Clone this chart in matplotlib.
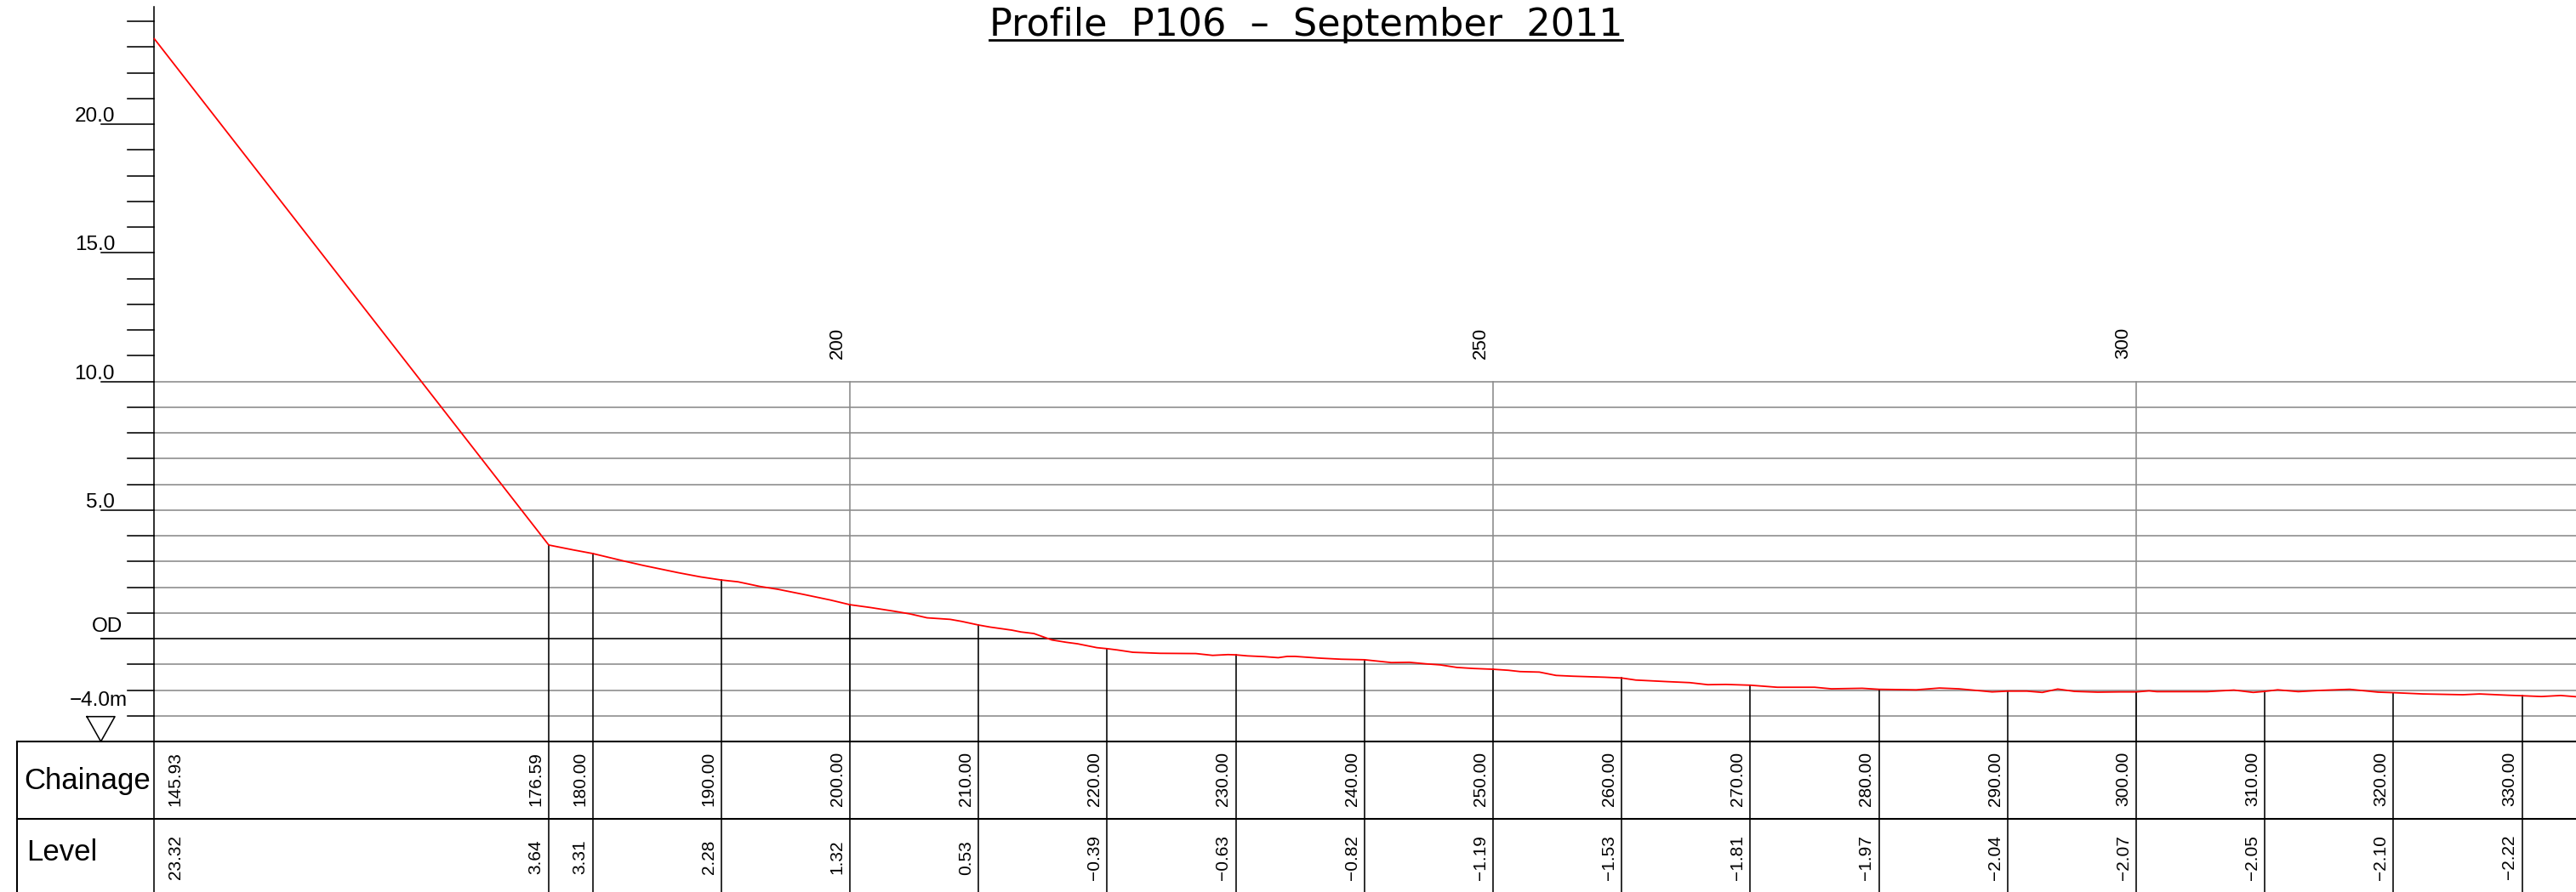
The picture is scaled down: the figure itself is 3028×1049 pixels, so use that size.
import matplotlib
matplotlib.use('Agg')
import matplotlib.pyplot as plt

plt.rcParams['font.family'] = ['Liberation Sans', 'DejaVu Sans']

# ---- data ----
# stations listed in the table under the profile
station_chainage = [145.93, 176.59, 180.00, 190.00, 200.00, 210.00, 220.00, 230.00, 240.00,
                    250.00, 260.00, 270.00, 280.00, 290.00, 300.00, 310.00, 320.00, 330.00]
station_level = [23.32, 3.64, 3.31, 2.28, 1.32, 0.53, -0.39, -0.63, -0.82,
                 -1.19, -1.53, -1.81, -1.97, -2.04, -2.07, -2.05, -2.10, -2.22]

# surveyed ground line (red)
profile_chainage = [145.93, 176.59, 178.5, 180.00, 182.5, 184.0, 186.7, 188.4, 190.00, 191.3,
                    193.0, 194.4, 196.3, 198.5, 200.00, 201.6, 203.4, 204.7, 206.0, 207.8,
                    208.7, 210.00, 210.9, 212.6, 213.3, 214.3, 215.7, 216.8, 217.7, 219.2,
                    220.00, 220.8, 222.0, 224.1, 226.9, 228.2, 229.4, 230.00, 230.9, 232.2,
                    233.3, 234.0, 234.6, 236.6, 238.2, 240.00, 242.1, 243.5, 244.8, 245.9,
                    247.2, 248.5, 250.00, 251.2, 252.1, 253.6, 254.9, 256.2, 258.7, 260.00,
                    261.1, 263.5, 265.3, 266.7, 268.1, 270.00, 272.1, 275.0, 276.3, 278.7,
                    280.00, 282.9, 284.7, 286.2, 288.8, 290.00, 291.5, 292.7, 293.9, 295.2,
                    297.0, 298.7, 300.00, 301.0, 301.6, 305.5, 307.6, 309.1, 310.00, 311.0,
                    312.6, 314.4, 316.6, 318.8, 320.00, 322.3, 325.4, 326.7, 328.9, 330.00,
                    331.5, 333.0, 334.5]
profile_level = [23.32, 3.64, 3.45, 3.31, 3.01, 2.84, 2.56, 2.40, 2.28, 2.21,
                 2.03, 1.92, 1.73, 1.50, 1.32, 1.21, 1.07, 0.96, 0.81, 0.75,
                 0.67, 0.53, 0.45, 0.33, 0.26, 0.20, -0.05, -0.14, -0.20, -0.35,
                 -0.39, -0.44, -0.53, -0.57, -0.58, -0.65, -0.62, -0.63, -0.67, -0.70,
                 -0.74, -0.69, -0.69, -0.76, -0.80, -0.82, -0.93, -0.92, -0.98, -1.02,
                 -1.12, -1.16, -1.19, -1.23, -1.28, -1.30, -1.43, -1.46, -1.50, -1.53,
                 -1.61, -1.67, -1.71, -1.79, -1.78, -1.81, -1.89, -1.89, -1.95, -1.93,
                 -1.97, -1.99, -1.92, -1.95, -2.07, -2.04, -2.04, -2.09, -1.96, -2.05,
                 -2.08, -2.07, -2.07, -2.03, -2.06, -2.06, -2.00, -2.09, -2.05, -1.99,
                 -2.06, -2.01, -1.97, -2.08, -2.10, -2.15, -2.18, -2.15, -2.20, -2.22,
                 -2.25, -2.21, -2.27]

grid_chainage = [200, 250, 300]
level_ticks = [20, 15, 10, 5]
level_tick_labels = ['20.0', '15.0', '10.0', '5.0']
datum_level = -4.0

title = 'Profile  P106  –  September  2011'


def fmt(v):
    return f'{v:.2f}'.replace('-', '\u2212')


########################################################################
fig = plt.figure(figsize=(30.28, 10.49), dpi=100)
ax = fig.add_axes([0, 0, 1, 1])
x_left, x_right = 133.93, 334.19
y_bot, y_top = -9.85, 24.83
ax.set_xlim(x_left, x_right)
ax.set_ylim(y_bot, y_top)
ax.axis('off')

GREY = '#8a8a8a'
LW = 1.15
x_axis = station_chainage[0]
x_tick = 143.85
x_long = 141.8
x_table = 135.25

# horizontal grid
for lv in range(int(datum_level) + 1, 11):
    if lv == 0:
        continue
    ax.plot([x_axis, x_right], [lv, lv], color=GREY, lw=LW, zorder=1)
ax.plot([x_long, x_right], [0, 0], color='k', lw=LW, zorder=2)

# vertical grid at round chainages
for ch in grid_chainage:
    ax.plot([ch, ch], [datum_level, 10], color=GREY, lw=LW, zorder=1)
    ax.text(ch - 0.3, 11.5, str(ch), rotation=90, ha='right', va='center', fontsize=16)

# level axis
ax.plot([x_axis, x_axis], [24.55, y_bot], color='k', lw=LW, zorder=3)
for lv in range(int(datum_level) + 1, 25):
    start = x_long if lv % 5 == 0 else x_tick
    ax.plot([start, x_axis], [lv, lv], color='k', lw=LW, zorder=3)
for lv, lab in zip(level_ticks, level_tick_labels):
    ax.text(142.86, lv + 0.1, lab, ha='right', va='baseline', fontsize=17.5)
ax.text(143.45, 0.26, 'OD', ha='right', va='baseline', fontsize=17.5)
ax.text(143.85, -2.61, '\u22124.0m', ha='right', va='baseline', fontsize=17.5)
ax.plot([140.68, 142.86, 141.77, 140.68], [-3.03, -3.03, datum_level, -3.03],
        color='k', lw=LW)

# table
ax.plot([x_table, x_right], [datum_level, datum_level], color='k', lw=LW * 1.3, zorder=3)
ax.plot([x_table, x_right], [-7.0, -7.0], color='k', lw=LW * 1.3, zorder=3)
ax.plot([x_table, x_table], [datum_level, y_bot], color='k', lw=LW * 1.3, zorder=3)
ax.text(135.78, -5.85, 'Chainage', ha='left', va='baseline', fontsize=25)
ax.text(135.98, -8.63, 'Level', ha='left', va='baseline', fontsize=25)

for i, (ch, lv) in enumerate(zip(station_chainage, station_level)):
    if i == 0:
        tx, ha = ch + 1.0, 'left'
    else:
        ax.plot([ch, ch], [lv, y_bot], color='k', lw=LW, zorder=3)
        tx, ha = ch - 0.35, 'right'
    ax.text(tx, -5.45, f'{ch:.2f}', rotation=90, ha=ha, va='center', fontsize=15)
    ax.text(tx, -8.5, fmt(lv), rotation=90, ha=ha, va='center', fontsize=15)

# ground profile
ax.plot(profile_chainage, profile_level, color='red', lw=1.3, zorder=5)

# title with underline
t = ax.text(235.45, 23.44, title, ha='center', va='baseline', fontsize=32,
            family=['DejaVu Sans'])
fig.canvas.draw()
bb = t.get_window_extent().transformed(ax.transData.inverted())
ax.plot([bb.x0, bb.x1], [23.27, 23.27], color='k', lw=2.0)

fig.savefig('out.png', dpi=100)
